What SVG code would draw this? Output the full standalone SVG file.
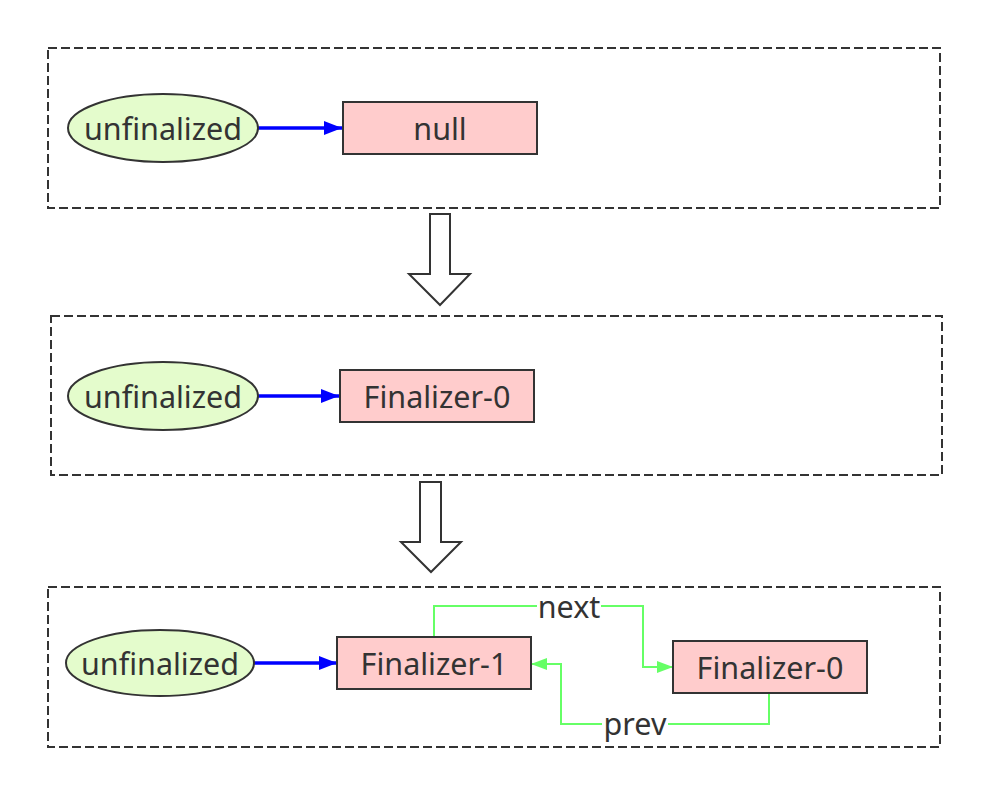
<svg xmlns="http://www.w3.org/2000/svg" width="1005" height="810" viewBox="0 0 1005 810">
<style>
.frame{fill:none;stroke:#333;stroke-width:2;stroke-dasharray:9 4}
.ell{fill:#e4fccc;stroke:#333;stroke-width:2}
.box{fill:#ffcccc;stroke:#333;stroke-width:2}
.big{fill:#fff;stroke:#333;stroke-width:2;stroke-linejoin:miter}
.t{font-family:"Noto Sans","DejaVu Sans",sans-serif;font-size:30.5px;fill:#333;text-anchor:middle}
.blue{fill:none;stroke:#0000ff;stroke-width:3.5}
.green{fill:none;stroke:#66ff66;stroke-width:2}
</style>
<defs>
<marker id="ab" markerUnits="userSpaceOnUse" markerWidth="20" markerHeight="14" refX="18" refY="7" orient="auto"><path d="M0,0 L18,7 L0,14 Z" fill="#0000ff"/></marker>
<marker id="ag" markerUnits="userSpaceOnUse" markerWidth="18" markerHeight="12" refX="16" refY="6" orient="auto"><path d="M0,0 L16,6 L0,12 Z" fill="#66ff66"/></marker>
</defs>
<rect width="1005" height="810" fill="#fff"/>
<g id="frames">
<rect class="frame" x="48" y="48" width="892" height="160"/>
<rect class="frame" x="51" y="316" width="891" height="159"/>
<rect class="frame" x="48" y="587" width="892" height="160"/>
</g>
<g id="transitions">
<path class="big" d="M430,214 L450,214 L450,274 L470,274 L440,305 L409,274 L430,274 Z"/>
<path class="big" d="M420,482 L441,482 L441,542 L461,542 L431,572 L401,542 L420,542 Z"/>
</g>
<g id="connectors">
<path class="blue" d="M257,128 L342,128" marker-end="url(#ab)"/>
<path class="blue" d="M257,396 L339,396" marker-end="url(#ab)"/>
<path class="blue" d="M254,663 L337,663" marker-end="url(#ab)"/>
<path class="green" d="M434,636 L434,606 L643,606 L643,667 L673,667" marker-end="url(#ag)"/>
<path class="green" d="M769,693 L769,724 L561,724 L561,664 L531,664" marker-end="url(#ag)"/>
<rect x="537" y="594" width="64" height="26" fill="#fff"/>
<rect x="602" y="711" width="66" height="28" fill="#fff"/>
<text class="t" x="569" y="618">next</text>
<text class="t" x="635" y="735">prev</text>
</g>
<g id="unfinalized-1">
<ellipse class="ell" cx="163" cy="128" rx="95" ry="34"/>
<text class="t" x="163" y="140">unfinalized</text>
</g>
<g id="null-1">
<rect class="box" x="343" y="102" width="194" height="52"/>
<text class="t" x="440" y="140">null</text>
</g>
<g id="unfinalized-2">
<ellipse class="ell" cx="163" cy="396" rx="95" ry="34"/>
<text class="t" x="163" y="408">unfinalized</text>
</g>
<g id="finalizer0-2">
<rect class="box" x="340" y="370" width="194" height="52"/>
<text class="t" x="437" y="408">Finalizer-0</text>
</g>
<g id="unfinalized-3">
<ellipse class="ell" cx="160" cy="663" rx="94" ry="33"/>
<text class="t" x="160" y="675">unfinalized</text>
</g>
<g id="finalizer1-3">
<rect class="box" x="337" y="637" width="194" height="52"/>
<text class="t" x="434" y="675">Finalizer-1</text>
</g>
<g id="finalizer0-3">
<rect class="box" x="673" y="641" width="194" height="52"/>
<text class="t" x="770" y="679">Finalizer-0</text>
</g>
</svg>
